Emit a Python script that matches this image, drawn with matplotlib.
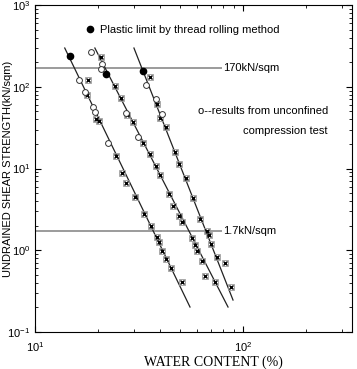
import matplotlib
matplotlib.use("Agg")
import matplotlib.pyplot as plt
from matplotlib.lines import Line2D
from matplotlib.ticker import LogLocator

plt.rcParams['font.family'] = ['Liberation Sans', 'DejaVu Sans']
plt.rcParams['mathtext.default'] = 'regular'

# fitted lines (end points) for the three soils
line_x = [[13.9, 55.6], [19.4, 84.7], [29.9, 89.5]]
line_y = [[298, 0.202], [298, 0.202], [298, 0.246]]

# plastic limit by thread rolling
pl_x = [14.7, 21.95, 33.0]
pl_y = [238, 144, 155]

# unconfined compression test
uc_x = [16.3, 17.4, 19.1, 19.4, 22.4,
        18.5, 21.1, 20.8, 27.4, 31.4,
        34.1, 38.1, 40.8]
uc_y = [121, 86, 56.5, 49, 20.5,
        264, 190, 163, 47.7, 24.5,
        105, 70, 46]

# other measurements (cross markers)
cr_x = [18.0, 17.8, 19.6, 20.3, 24.5, 26.2, 27.5, 30.3, 33.4, 36.1, 38.5, 39.6, 40.8, 42.4, 44.9, 51.1,
        20.8, 24.3, 25.8, 27.8, 29.6, 33.2, 35.7, 38.1, 39.9, 44.3, 46.2, 49.2, 51.1, 57.0, 58.5, 60.1, 63.7, 65.3, 73.0,
        35.8, 38.6, 40.1, 42.7, 46.9, 49.1, 53.2, 57.7, 62.1, 66.9, 68.3, 70.4, 74.8, 81.9, 87.4]
cr_y = [121, 80, 40, 38, 14.4, 8.9, 6.7, 4.5, 2.8, 2.0, 1.47, 1.26, 0.98, 0.78, 0.60, 0.41,
        234, 101, 72, 45, 37.6, 20.3, 15.0, 10.7, 8.3, 4.9, 3.5, 2.6, 2.2, 1.40, 1.16, 0.97, 0.74, 0.49, 0.41,
        130, 61.5, 41.5, 32.5, 15.9, 11.4, 7.7, 4.4, 2.4, 1.72, 1.54, 1.20, 0.83, 0.70, 0.36]

# reference strengths
ref_levels = [170, 1.7]
ref_labels = ['170kN/sqm', '1.7kN/sqm']
ref_end = 79.3

fig = plt.figure(figsize=(3.57, 3.69), dpi=100)
ax = fig.add_axes([0.098, 0.1003, 0.888, 0.886])
ax.set_xscale('log')
ax.set_yscale('log')
ax.set_xlim(10, 334)
ax.set_ylim(0.1, 1000)

for lv, lb in zip(ref_levels, ref_labels):
    ax.hlines(lv, 10, ref_end, color='#8a8a8a', lw=1.2)
    ax.text(ref_end + 0.8, lv, lb, fontsize=8, va='center', ha='left')

for xs, ys in zip(line_x, line_y):
    ax.plot(xs, ys, color='#222222', lw=0.9)

ax.plot(cr_x, cr_y, ls='none', marker='s', ms=4.2, mfc='none', mec='#9a9a9a', mew=0.6)
ax.plot(cr_x, cr_y, ls='none', marker='x', ms=3.2, color='black', mew=1.0)
ax.plot(uc_x, uc_y, ls='none', marker='o', ms=4.2, mfc='white', mec='#333333', mew=0.7)
ax.plot(pl_x, pl_y, ls='none', marker='o', ms=4.5, color='black')

h = Line2D([], [], ls='none', marker='o', ms=4.5, color='black',
           label='Plastic limit by thread rolling method')
ax.legend(handles=[h], loc='upper left', bbox_to_anchor=(0.14, 0.952), frameon=False,
          fontsize=8, handletextpad=0.3, borderaxespad=0, handlelength=1.2)

ax.text(0.924, 0.676, 'o--results from unconfined', transform=ax.transAxes,
        fontsize=8, ha='right', va='center')
ax.text(0.924, 0.615, 'compression test', transform=ax.transAxes,
        fontsize=8, ha='right', va='center')

ax.xaxis.set_major_locator(LogLocator(base=10))
ax.yaxis.set_major_locator(LogLocator(base=10))
ax.tick_params(which='both', direction='in', top=True, right=True, labelsize=8)
ax.tick_params(which='major', length=4.5, width=0.8)
ax.tick_params(which='minor', length=2.5, width=0.6)
ax.tick_params(axis='x', pad=6)

ax.set_ylabel('UNDRAINED SHEAR STRENGTH(kN/sqm)', fontsize=8)
ax.yaxis.set_label_coords(-0.068, 0.5)
ax.set_xlabel('WATER CONTENT (%)', fontsize=10, family='Liberation Serif')
ax.xaxis.set_label_coords(0.564, -0.073)

fig.savefig('out.png', dpi=100)
